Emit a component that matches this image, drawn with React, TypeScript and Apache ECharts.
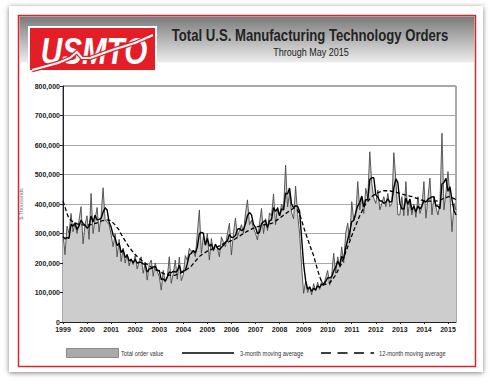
import React, { useEffect, useRef } from "react";
import * as echarts from "echarts";

const firstYear = 1999;
const lastYear = 2015;
const lastMonthOfLastYear = 5; // May 2015

// Total order value, $ thousands, monthly Jan 1999 .. May 2015
const totalOrders: number[] = [
  305, 228, 325, 300, 368, 306, 334, 300, 345, 391, 265, 330, // 1999
  360, 280, 436, 300, 350, 388, 305, 360, 455, 345, 340, 330, // 2000
  296, 255, 300, 221, 280, 205, 250, 200, 230, 190, 215, 195, // 2001
  225, 180, 205, 221, 165, 200, 142, 195, 210, 155, 200, 170, // 2002
  155, 108, 175, 135, 150, 221, 131, 165, 210, 145, 220, 140, // 2003
  160, 225, 210, 250, 240, 240, 221, 300, 380, 233, 289, 260, // 2004
  300, 210, 283, 240, 265, 250, 221, 289, 270, 255, 300, 335, // 2005
  227, 300, 352, 290, 310, 330, 300, 368, 414, 330, 345, 318, // 2006
  300, 278, 335, 385, 300, 350, 310, 370, 360, 434, 330, 390, // 2007
  360, 400, 380, 532, 390, 440, 370, 350, 461, 365, 300, 190, // 2008
  97, 137, 100, 119, 92, 130, 105, 135, 110, 140, 125, 150, // 2009
  175, 125, 160, 233, 165, 221, 190, 255, 200, 301, 335, 278, // 2010
  408, 346, 360, 476, 380, 425, 368, 453, 420, 577, 470, 420, // 2011
  402, 447, 380, 402, 425, 391, 436, 391, 400, 574, 482, 363, // 2012
  363, 425, 360, 476, 361, 414, 363, 400, 355, 425, 368, 390, // 2013
  476, 352, 420, 488, 363, 425, 390, 363, 400, 640, 380, 440, // 2014
  510, 425, 306, 402, 380, // 2015
];

// 3-month moving average, $ thousands
const avg3Month: number[] = [
  290, 282, 286, 284, 331, 325, 336, 313, 326, 345, 334, 329,
  318, 323, 359, 339, 362, 346, 348, 351, 373, 387, 380, 338,
  322, 294, 284, 259, 267, 235, 245, 218, 227, 207, 212, 200,
  212, 200, 203, 202, 197, 195, 169, 179, 182, 187, 188, 175,
  175, 144, 146, 139, 153, 169, 167, 172, 169, 173, 192, 168,
  173, 175, 198, 228, 233, 243, 234, 254, 300, 304, 301, 261,
  283, 257, 264, 244, 263, 252, 245, 253, 260, 271, 275, 297,
  287, 287, 293, 314, 317, 310, 313, 333, 361, 371, 363, 331,
  321, 299, 304, 333, 340, 345, 320, 343, 347, 388, 375, 385,
  360, 383, 380, 437, 434, 454, 400, 387, 394, 392, 375, 285,
  196, 141, 111, 119, 104, 114, 109, 123, 117, 128, 125, 138,
  150, 150, 153, 173, 186, 206, 192, 222, 215, 252, 279, 305,
  340, 344, 371, 394, 405, 427, 391, 415, 414, 483, 489, 489,
  431, 423, 410, 410, 402, 406, 417, 406, 409, 455, 485, 473,
  403, 384, 383, 420, 399, 417, 379, 392, 373, 393, 383, 394,
  411, 406, 416, 420, 424, 425, 393, 393, 384, 468, 473, 487,
  443, 458, 414, 378, 363,
];

// 12-month moving average, $ thousands
const avg12Month: number[] = [
  410, 390, 368, 352, 345, 340, 336, 333, 331, 330, 329, 328,
  328, 329, 330, 332, 334, 336, 339, 342, 344, 346, 346, 345,
  342, 336, 329, 320, 311, 298, 287, 275, 264, 254, 245, 237,
  229, 222, 216, 210, 205, 200, 195, 190, 186, 182, 178, 175,
  172, 168, 165, 162, 160, 159, 158, 158, 159, 161, 164, 167,
  170, 175, 180, 185, 190, 198, 206, 214, 222, 227, 232, 236,
  240, 243, 246, 249, 252, 255, 258, 262, 265, 268, 270, 273,
  276, 278, 282, 287, 291, 296, 300, 304, 308, 311, 315, 318,
  320, 323, 325, 327, 329, 330, 331, 332, 334, 337, 342, 347,
  352, 357, 362, 367, 372, 377, 381, 385, 384, 378, 365, 345,
  322, 301, 282, 262, 243, 225, 200, 176, 155, 137, 130, 128,
  130, 133, 141, 150, 160, 173, 186, 200, 218, 237, 255, 273,
  292, 310, 327, 344, 360, 374, 388, 400, 409, 417, 425, 430,
  434, 438, 441, 443, 445, 445, 445, 445, 443, 442, 440, 438,
  436, 434, 432, 430, 428, 427, 425, 423, 420, 418, 415, 413,
  412, 411, 410, 410, 410, 409, 410, 411, 413, 416, 420, 422,
  424, 425, 422, 418, 415,
];

const yMax = 800;
const yStep = 100;

const titleText = "Total U.S. Manufacturing Technology Orders";
const subtitleText = "Through May 2015";
const yAxisName = "$ Thousands";
const legendLabels = ["Total order value", "3-month moving average", "12-month moving average"];

const monthCategories: string[] = [];
for (let y = firstYear; y <= lastYear; y++) {
  const last = y === lastYear ? lastMonthOfLastYear : 12;
  for (let m = 1; m <= last; m++) monthCategories.push(`${y}-${m < 10 ? "0" + m : m}`);
}

const NARROW = '"Liberation Sans Narrow", "Liberation Sans", Arial, sans-serif';
const SANS = '"Liberation Sans", Arial, sans-serif';

export default function App() {
  const ref = useRef<HTMLDivElement>(null);
  useEffect(() => {
    if (!ref.current) return;
    const chart = echarts.init(ref.current, undefined, { renderer: "svg" });
    const option: any = {
      animation: false,
      grid: {
        left: 63,
        right: 36,
        top: 86,
        bottom: 62,
        show: true,
        borderColor: "#555",
        borderWidth: 1,
      },
      xAxis: {
        type: "category",
        data: monthCategories,
        boundaryGap: false,
        axisLine: { lineStyle: { color: "#222", width: 1 } },
        axisTick: { show: true, interval: 11, length: 2, lineStyle: { color: "#222" } },
        axisLabel: {
          interval: 11,
          formatter: (v: string) => v.slice(0, 4),
          fontSize: 7,
          fontWeight: "bold",
          color: "#222",
          margin: 4,
          fontFamily: NARROW,
        },
        splitLine: { show: false },
      },
      yAxis: {
        type: "value",
        min: 0,
        max: yMax,
        interval: yStep,
        name: yAxisName,
        nameLocation: "middle",
        nameGap: 29,
        nameTextStyle: { fontSize: 5.5, color: "#777", fontFamily: SANS },
        axisLine: { show: true, lineStyle: { color: "#222", width: 1 } },
        axisTick: { show: true, length: 3, lineStyle: { color: "#222" } },
        axisLabel: {
          formatter: (v: number) => (v * 1000).toLocaleString("en-US"),
          fontSize: 7,
          fontWeight: "bold",
          color: "#222",
          margin: 3,
          fontFamily: NARROW,
        },
        splitLine: { show: true, lineStyle: { color: "#a8a8a8", width: 1 } },
      },
      series: [
        {
          name: legendLabels[0],
          type: "line",
          data: totalOrders,
          symbol: "none",
          lineStyle: { color: "#4a4a4a", width: 0.9 },
          areaStyle: { color: "#cdcdcd", opacity: 1 },
          z: 2,
        },
        {
          name: legendLabels[2],
          type: "line",
          data: avg12Month,
          symbol: "none",
          smooth: 0.3,
          lineStyle: { color: "#000", width: 1.3, type: [4, 2.5] },
          z: 3,
        },
        {
          name: legendLabels[1],
          type: "line",
          data: avg3Month,
          symbol: "none",
          lineStyle: { color: "#000", width: 1.4 },
          z: 4,
        },
      ],
      graphic: [
        {
          type: "rect",
          shape: { x: 19.5, y: 16.5, width: 455, height: 46 },
          style: {
            fill: new echarts.graphic.LinearGradient(0, 0, 0, 1, [
              { offset: 0, color: "#7a7a7a" },
              { offset: 1, color: "#ededed" },
            ]),
          },
        },
        {
          type: "rect",
          shape: { x: 18.5, y: 15.5, width: 457, height: 351 },
          style: { fill: "none", stroke: "#d8262c", lineWidth: 1.5 },
        },
        {
          type: "rect",
          shape: { x: 28, y: 26, width: 129, height: 46 },
          style: { fill: "#ffffff" },
        },
        {
          type: "rect",
          shape: { x: 30, y: 28, width: 125, height: 42 },
          style: { fill: "#e31e26" },
        },
        {
          type: "text",
          x: 94,
          y: 51,
          scaleX: 0.8,
          style: {
            text: "USMTO",
            font: 'italic 900 37px ' + SANS,
            fill: "#ffffff",
            align: "center",
            verticalAlign: "middle",
          },
        },
        {
          type: "polyline",
          shape: { points: [[32, 70], [58, 63], [70, 58], [77, 52], [82, 58], [90, 58], [112, 50], [135, 43], [153, 35]] },
          style: { fill: "none", stroke: "#e31e26", lineWidth: 4.5 },
        },
        {
          type: "polyline",
          shape: { points: [[32, 70], [58, 63], [70, 58], [77, 52], [82, 58], [90, 58], [112, 50], [135, 43], [153, 35]] },
          style: { fill: "none", stroke: "#ffffff", lineWidth: 2 },
        },
        {
          type: "text",
          x: 310,
          y: 36,
          scaleX: 0.82,
          style: {
            text: titleText,
            font: "bold 16px " + SANS,
            fill: "#222",
            align: "center",
            verticalAlign: "middle",
          },
        },
        {
          type: "text",
          x: 311,
          y: 52,
          scaleX: 0.82,
          style: {
            text: subtitleText,
            font: "11px " + SANS,
            fill: "#222",
            align: "center",
            verticalAlign: "middle",
          },
        },
        {
          type: "rect",
          shape: { x: 66.5, y: 348.5, width: 52, height: 9 },
          style: { fill: "#aaaaaa", stroke: "#8a8a8a", lineWidth: 1 },
        },
        {
          type: "text",
          x: 121,
          y: 353,
          scaleX: 0.82,
          style: { text: legendLabels[0], font: "7px " + SANS, fill: "#333", align: "left", verticalAlign: "middle" },
        },
        {
          type: "line",
          shape: { x1: 182, y1: 353, x2: 234, y2: 353 },
          style: { stroke: "#000", lineWidth: 1.6 },
        },
        {
          type: "text",
          x: 240,
          y: 353,
          scaleX: 0.82,
          style: { text: legendLabels[1], font: "7px " + SANS, fill: "#333", align: "left", verticalAlign: "middle" },
        },
        {
          type: "line",
          shape: { x1: 321, y1: 353, x2: 374, y2: 353 },
          style: { stroke: "#000", lineWidth: 1.6, lineDash: [10, 6.5] },
        },
        {
          type: "text",
          x: 379,
          y: 353,
          scaleX: 0.82,
          style: { text: legendLabels[2], font: "7px " + SANS, fill: "#333", align: "left", verticalAlign: "middle" },
        },
      ],
    };
    chart.setOption(option);
    return () => chart.dispose();
  }, []);

  return (
    <div style={{ position: "fixed", left: 0, top: 0, width: 492, height: 384, background: "#fff", overflow: "hidden" }}>
      <div
        style={{
          position: "absolute",
          left: 9,
          top: 6,
          width: 474,
          height: 366,
          background: "#fff",
          boxShadow: "0px 1px 5px rgba(0,0,0,0.5)",
        }}
      />
      <div ref={ref} style={{ position: "absolute", left: 0, top: 0, width: 492, height: 384 }} />
    </div>
  );
}
